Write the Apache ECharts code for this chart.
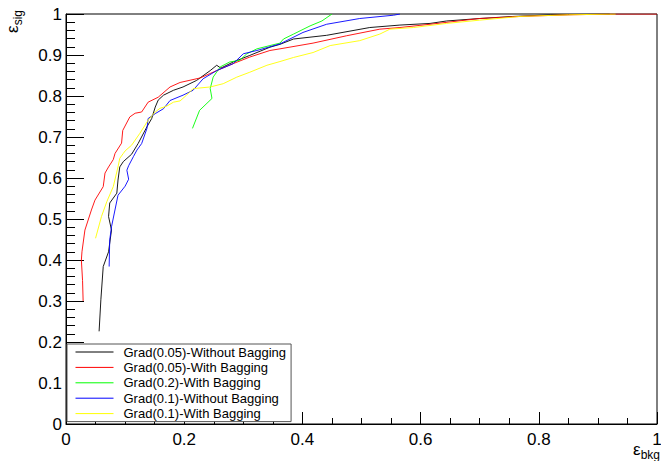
<!DOCTYPE html>
<html>
<head>
<meta charset="utf-8">
<script src="https://cdn.jsdelivr.net/npm/echarts@6/dist/echarts.min.js"></script>
<style>
html,body{margin:0;padding:0;background:#fff;}
#chart{width:661px;height:461px;}
</style>
</head>
<body>
<div id="chart"></div>
<script>
// ---- data ----
const seriesNames = [
  'Grad(0.05)-Without Bagging',
  'Grad(0.05)-With Bagging',
  'Grad(0.2)-With Bagging',
  'Grad(0.1)-Without Bagging',
  'Grad(0.1)-With Bagging'
];
const seriesColors = ['#000000', '#ff0000', '#00ff00', '#0000ff', '#ffff00'];

const blackX = [0.056,0.059,0.063,0.072,0.077,0.072,0.074,0.086,0.088,0.091,0.097,0.111,0.122,0.137,0.145,0.151,0.156,0.165,0.182,0.198,0.221,0.244,0.255,0.262,0.283,0.311,0.345,0.362,0.385,0.441,0.514,0.565,0.616,0.644,0.700,0.756,0.820,0.920];
const blackY = [0.226,0.303,0.384,0.420,0.473,0.506,0.539,0.563,0.595,0.627,0.640,0.658,0.684,0.725,0.745,0.773,0.790,0.802,0.814,0.822,0.838,0.862,0.875,0.868,0.883,0.899,0.919,0.926,0.939,0.948,0.967,0.973,0.977,0.983,0.989,0.994,0.998,1.000];

const redX = [0.029,0.028,0.026,0.027,0.032,0.043,0.049,0.063,0.066,0.072,0.080,0.083,0.094,0.096,0.108,0.117,0.128,0.139,0.156,0.176,0.193,0.227,0.255,0.283,0.311,0.345,0.362,0.418,0.475,0.531,0.565,0.616,0.700,0.768,0.850,0.930,1.000];
const redY = [0.300,0.350,0.400,0.420,0.473,0.522,0.546,0.579,0.612,0.627,0.645,0.660,0.685,0.716,0.749,0.758,0.761,0.785,0.797,0.822,0.833,0.844,0.862,0.879,0.895,0.911,0.915,0.929,0.947,0.963,0.967,0.975,0.989,0.994,0.998,1.000,1.000];

const greenX = [0.214,0.226,0.247,0.244,0.249,0.261,0.277,0.294,0.306,0.323,0.345,0.362,0.368,0.385,0.413,0.433,0.450];
const greenY = [0.721,0.765,0.794,0.818,0.846,0.871,0.883,0.887,0.903,0.915,0.923,0.929,0.939,0.951,0.971,0.983,1.000];

const blueX = [0.073,0.074,0.077,0.088,0.100,0.106,0.103,0.106,0.114,0.120,0.128,0.137,0.139,0.151,0.165,0.176,0.198,0.215,0.232,0.255,0.283,0.300,0.323,0.362,0.401,0.441,0.497,0.554,0.565];
const blueY = [0.384,0.449,0.481,0.558,0.580,0.597,0.619,0.630,0.652,0.668,0.684,0.721,0.745,0.757,0.769,0.789,0.802,0.814,0.842,0.862,0.879,0.903,0.911,0.927,0.955,0.975,0.989,0.997,1.000];

const yellowX = [0.050,0.060,0.069,0.080,0.088,0.091,0.097,0.100,0.111,0.125,0.139,0.151,0.159,0.170,0.182,0.193,0.204,0.215,0.244,0.266,0.289,0.311,0.340,0.362,0.385,0.418,0.447,0.497,0.531,0.548,0.588,0.644,0.700,0.768,0.850,0.930];
const yellowY = [0.453,0.506,0.542,0.579,0.627,0.648,0.660,0.666,0.680,0.709,0.741,0.761,0.770,0.775,0.785,0.788,0.802,0.818,0.822,0.830,0.846,0.858,0.875,0.884,0.894,0.906,0.923,0.935,0.951,0.963,0.967,0.977,0.985,0.994,0.998,1.000];

const allX = [blackX, redX, greenX, blueX, yellowX];
const allY = [blackY, redY, greenY, blueY, yellowY];

// ---- chart ----
const FONT = "'Liberation Sans', Arial, Helvetica, sans-serif";
const chart = echarts.init(document.getElementById('chart'), null, {renderer: 'svg'});

const series = seriesNames.map((name, i) => ({
  name: name,
  type: 'line',
  data: allX[i].map((x, j) => [x, allY[i][j]]),
  symbol: 'none',
  showSymbol: false,
  smooth: false,
  animation: false,
  lineStyle: {color: seriesColors[i], width: 0.9},
  itemStyle: {color: seriesColors[i]},
  emphasis: {disabled: true}
}));

chart.setOption({
  animation: false,
  backgroundColor: '#ffffff',
  grid: {
    left: 66, right: 4, top: 14, bottom: 37,
    show: true, borderColor: '#000', borderWidth: 1,
    backgroundColor: 'transparent',
    containLabel: false,
    outerBoundsMode: 'none'
  },
  xAxis: {
    type: 'value', min: 0, max: 1, interval: 0.2,
    axisLine: {show: true, onZero: false, lineStyle: {color: '#000', width: 1}},
    axisTick: {show: true, inside: true, length: 12, lineStyle: {color: '#000', width: 1}},
    minorTick: {show: true, splitNumber: 4, length: 6, lineStyle: {color: '#000', width: 1}},
    splitLine: {show: false},
    minorSplitLine: {show: false},
    axisLabel: {color: '#000', fontSize: 17, fontFamily: FONT, margin: 7}
  },
  yAxis: {
    type: 'value', min: 0, max: 1, interval: 0.1,
    axisLine: {show: true, onZero: false, lineStyle: {color: '#000', width: 1}},
    axisTick: {show: true, inside: true, length: 18, lineStyle: {color: '#000', width: 1}},
    minorTick: {show: true, splitNumber: 5, length: 9, lineStyle: {color: '#000', width: 1}},
    splitLine: {show: false},
    minorSplitLine: {show: false},
    axisLabel: {color: '#000', fontSize: 17, fontFamily: FONT, margin: 4}
  },
  legend: {
    show: true,
    orient: 'vertical',
    left: 67, top: 344,
    padding: [1, 5, 1, 8],
    itemWidth: 38, itemHeight: 14, itemGap: 1.4,
    backgroundColor: '#ffffff',
    borderColor: '#555', borderWidth: 1, borderRadius: 0,
    selectedMode: false,
    itemStyle: {opacity: 0, borderWidth: 0},
    lineStyle: {width: 1},
    textStyle: {color: '#000', fontSize: 13, fontFamily: FONT, lineHeight: 14, padding: [0, 0, 0, 5]},
    data: seriesNames
  },
  graphic: [
    {
      type: 'text',
      x: 14, y: 10,
      rotation: Math.PI / 2,
      style: {
        text: '{e|ε}{s|sig}',
        align: 'right', verticalAlign: 'middle',
        fill: '#000',
        rich: {
          e: {fontSize: 17, fontFamily: FONT, fill: '#000', lineHeight: 20, verticalAlign: 'top'},
          s: {fontSize: 12, fontFamily: FONT, fill: '#000', lineHeight: 20, verticalAlign: 'bottom'}
        }
      }
    },
    {
      type: 'text',
      right: 1, top: 441,
      style: {
        text: '{e|ε}{s|bkg}',
        fill: '#000',
        rich: {
          e: {fontSize: 17, fontFamily: FONT, fill: '#000', lineHeight: 20, verticalAlign: 'top'},
          s: {fontSize: 12, fontFamily: FONT, fill: '#000', lineHeight: 20, verticalAlign: 'bottom'}
        }
      }
    }
  ],
  series: series
});
</script>
</body>
</html>
